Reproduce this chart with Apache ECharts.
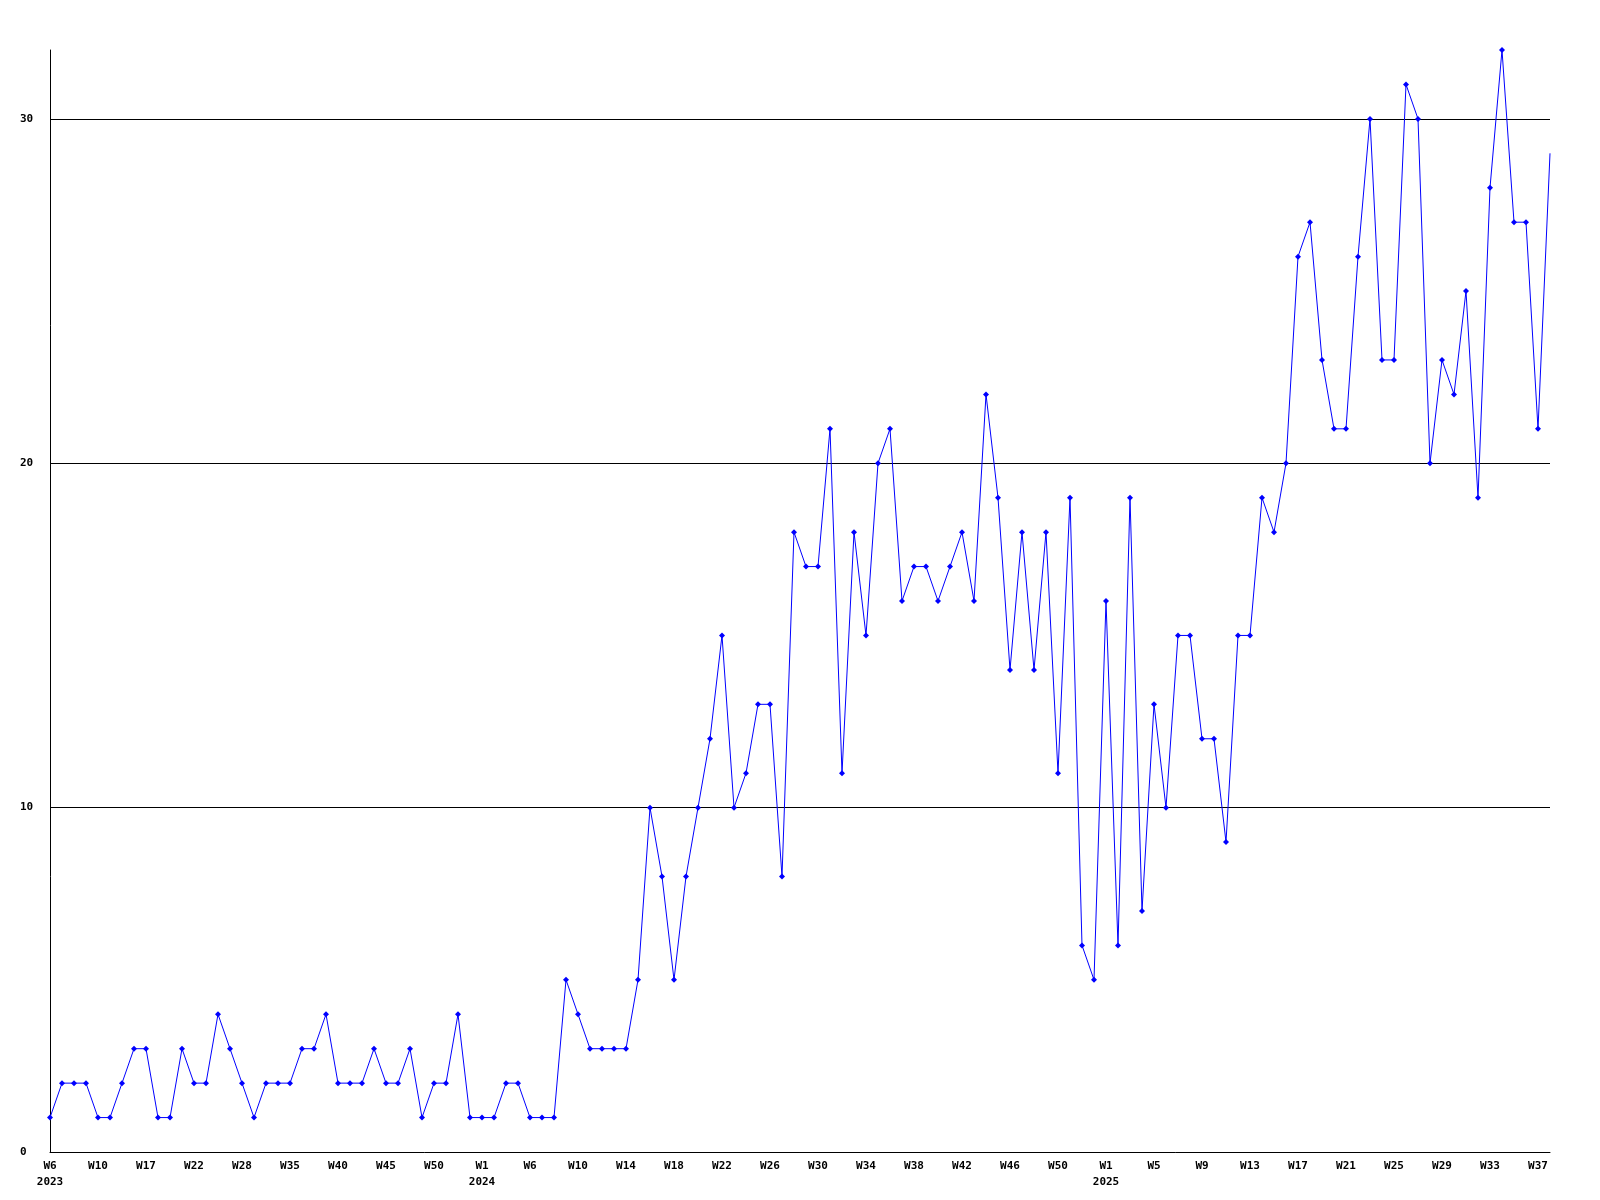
<!DOCTYPE html>
<html>
<head>
<meta charset="utf-8">
<script src="https://cdn.jsdelivr.net/npm/echarts@6/dist/echarts.min.js"></script>
<style>
html,body{margin:0;padding:0;background:#fff;}
#chart{width:1600px;height:1200px;}
</style>
</head>
<body>
<div id="chart"></div>
<script>
// Week labels per year (as shown on the axis)
var weeks2023 = ["W6","W7","W8","W9","W10","W12","W14","W15","W17","W18","W19","W21","W22","W23","W25","W26","W28","W30","W31","W33","W35","W36","W37","W39","W40","W41","W42","W44","W45","W46","W47","W49","W50","W51","W52","W53"];
var weeks2024 = ["W1","W2","W3","W4","W6","W7","W8","W9","W10","W11","W12","W13","W14","W15","W16","W17","W18","W19","W20","W21","W22","W23","W24","W25","W26","W27","W28","W29","W30","W31","W32","W33","W34","W35","W36","W37","W38","W39","W40","W41","W42","W43","W44","W45","W46","W47","W48","W49","W50","W51","W52","W53"];
var weeks2025 = ["W1","W2","W3","W4","W5","W6","W7","W8","W9","W10","W11","W12","W13","W14","W15","W16","W17","W18","W19","W20","W21","W22","W23","W24","W25","W26","W27","W28","W29","W30","W31","W32","W33","W34","W35","W36","W37","W38"];

// Weekly values
var values = [
  1,2,2,2,1,1,2,3,3,1,
  1,3,2,2,4,3,2,1,2,2,
  2,3,3,4,2,2,2,3,2,2,
  3,1,2,2,4,1,1,1,2,2,
  1,1,1,5,4,3,
  3,3,3,5,10,8,5,8,10,12,
  15,10,11,13,13,8,18,17,17,21,
  11,18,15,20,21,16,17,17,16,17,
  18,16,22,19,14,18,14,18,11,19,
  6,5,16,6,19,7,13,10,15,15,
  12,12,9,15,15,19,18,20,26,27,
  23,21,21,26,30,23,23,31,30,20,
  23,22,25,19,28,32,27,27,21,29
];

var yTicks = [0, 10, 20, 30];

var categories = []
  .concat(weeks2023.map(function(w){return "2023-" + w;}))
  .concat(weeks2024.map(function(w){return "2024-" + w;}))
  .concat(weeks2025.map(function(w){return "2025-" + w;}));

var seriesData = values.map(function(v, i){
  if (i === values.length - 1) return {value: v, symbol: 'none'};
  return v;
});

var FONT = '"DejaVu Sans Mono", "Liberation Mono", monospace';

var chart = echarts.init(document.getElementById('chart'), null, {renderer: 'canvas'});
chart.setOption({
  animation: false,
  backgroundColor: '#ffffff',
  grid: {left: 50, right: 50, top: 50, bottom: 48, containLabel: false},
  xAxis: {
    type: 'category',
    data: categories,
    boundaryGap: false,
    axisLine: {show: true, lineStyle: {color: '#000', width: 1}},
    axisTick: {show: false},
    splitLine: {show: false},
    axisLabel: {
      interval: 3,
      margin: 6,
      color: '#000',
      fontFamily: FONT,
      fontWeight: 'bold',
      fontSize: 11,
      lineHeight: 16,
      formatter: function(val, idx){
        var parts = val.split('-');
        var year = parts[0], wk = parts[1];
        var prev = idx >= 4 ? categories[idx - 4].split('-')[0] : null;
        if (prev !== year) return wk + '\n' + year;
        return wk;
      }
    }
  },
  yAxis: {
    type: 'value',
    min: 0,
    max: 32,
    interval: 10,
    axisLine: {show: true, lineStyle: {color: '#000', width: 1}},
    axisTick: {show: false},
    splitLine: {show: true, showMinLine: false, showMaxLine: false, lineStyle: {color: '#000', width: 1}},
    axisLabel: {
      align: 'left',
      margin: 30,
      color: '#000',
      fontFamily: FONT,
      fontWeight: 'bold',
      fontSize: 11,
      showMaxLabel: false,
      formatter: function(v){ return yTicks.indexOf(v) >= 0 ? String(v) : ''; }
    }
  },
  series: [{
    type: 'line',
    data: seriesData,
    symbol: 'diamond',
    symbolSize: 6,
    showAllSymbol: true,
    lineStyle: {color: '#0000ff', width: 1},
    itemStyle: {color: '#0000ff'},
    emphasis: {disabled: true}
  }]
});
</script>
</body>
</html>
